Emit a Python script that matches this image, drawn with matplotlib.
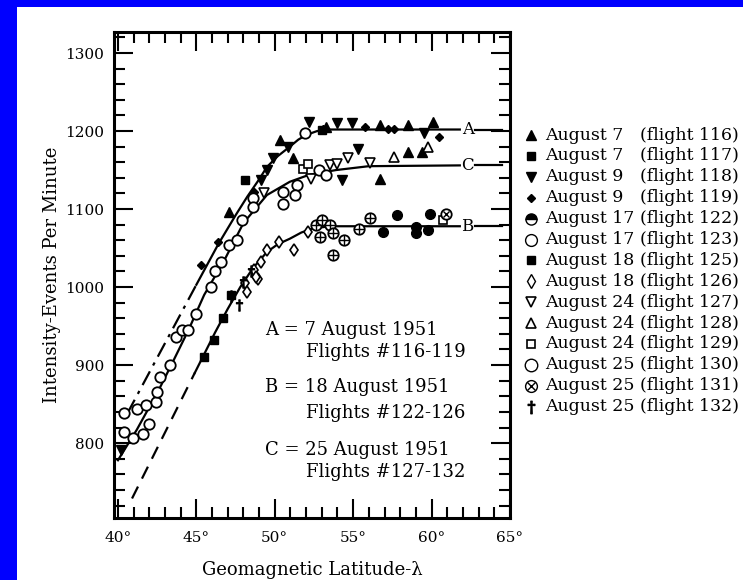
import matplotlib
matplotlib.use("Agg")
import matplotlib.pyplot as plt
from matplotlib.patches import Rectangle
from matplotlib.ticker import MultipleLocator

plt.rcParams['font.family'] = ['DejaVu Serif']
plt.rcParams['mathtext.fontset'] = 'dejavuserif'

# Fitted intensity curves (geomagnetic latitude in degrees, events per minute)
curve_a_lat = [45.0, 46.4, 47.5, 48.25, 49.0, 49.5, 50.2, 50.96, 51.5, 52.0, 52.7, 53.5, 56.0, 61.8]
curve_a_rate = [1003, 1055, 1092, 1116, 1138, 1154, 1168, 1180, 1189, 1195, 1200, 1202, 1202, 1202]
curve_a_ext_lat = [40.6, 45.0]
curve_a_ext_rate = [838, 1003]

curve_b_lat = [44.9, 45.5, 46.2, 47.0, 47.8, 48.6, 49.5, 50.2, 50.96, 51.7, 52.4, 53.5, 61.8]
curve_b_rate = [890, 914, 942, 972, 1000, 1024, 1045, 1055, 1062, 1070, 1075, 1078, 1078]
curve_b_ext_lat = [40.9, 44.9]
curve_b_ext_rate = [729, 890]

curve_c_lat = [40.0, 41.2, 42.6, 43.4, 44.5, 45.5, 46.8, 48.0, 49.5, 50.96, 52.2, 53.9, 56.0, 61.8]
curve_c_rate = [778, 817, 868, 900, 945, 990, 1035, 1082, 1118, 1135, 1144, 1150, 1155, 1156]

curve_labels = ["A", "B", "C"]
curve_label_rate = [1202, 1078, 1156]

# Individual flight measurements
f116_lat = [47.1, 50.33, 51.17, 53.25, 56.7, 58.5, 60.1, 56.7, 58.5, 59.4]
f116_rate = [1096, 1188, 1165, 1205, 1208, 1208, 1212, 1139, 1173, 1173]
f117_lat = [48.1, 53.0]
f117_rate = [1137, 1201]
f118_lat = [49.1, 49.5, 49.9, 50.86, 52.2, 54.0, 54.9, 59.5, 55.3, 54.3, 40.2]
f118_rate = [1137, 1150, 1165, 1180, 1212, 1210, 1210, 1197, 1177, 1137, 791]
f119_lat = [45.3, 46.4, 48.7, 53.1, 55.75, 57.2, 57.6, 60.5]
f119_rate = [1028, 1058, 1122, 1203, 1205, 1203, 1203, 1193]
f122_lat = [56.9, 57.8, 59.0, 59.0, 59.8, 59.9]
f122_rate = [1071, 1092, 1077, 1069, 1073, 1094]
f123_lat = [52.6, 53.0, 53.5, 52.9, 53.7, 54.4, 53.7, 55.4, 56.1]
f123_rate = [1079, 1086, 1079, 1064, 1069, 1060, 1041, 1075, 1088]
f125_lat = [45.5, 46.1, 46.7, 47.2]
f125_rate = [911, 932, 960, 990]
f126_lat = [51.2, 50.3, 49.5, 49.1, 48.7, 48.9, 48.1, 48.8, 52.1, 48.25]
f126_rate = [1047, 1058, 1047, 1032, 1022, 1011, 1005, 1013, 1071, 994]
f127_lat = [53.5, 54.0, 54.7, 56.1, 49.3, 52.3]
f127_rate = [1156, 1158, 1165, 1158.6, 1120, 1139]
f128_lat = [57.6, 59.8]
f128_rate = [1167, 1180]
f129_lat = [51.8, 52.1, 60.7]
f129_rate = [1152, 1158, 1086]
f130_lat = [40.4, 40.96, 41.6, 42.0, 40.4, 41.2, 41.8, 42.4, 42.5, 42.7, 43.35, 43.7,
            44.1, 44.5, 45.0, 45.96, 46.2, 46.6, 47.1, 47.6, 47.9, 48.6, 48.6, 50.5,
            50.5, 51.4, 51.3, 52.8, 53.25, 51.9]
f130_rate = [814, 806, 812, 825, 838, 844, 849, 853, 866, 885, 900, 936,
             945, 945, 966, 1000, 1020, 1032, 1054, 1060, 1086, 1114, 1103, 1122,
             1107, 1131, 1118, 1150, 1144, 1197]
f131_lat = [60.9]
f131_rate = [1094]
f132_lat = [47.2, 47.7, 48.0, 48.5]
f132_rate = [988, 977, 1007, 1020]

x_ticks = [40, 45, 50, 55, 60, 65]
x_ticklabels = ["40°", "45°", "50°", "55°", "60°", "65°"]
y_ticks = [800, 900, 1000, 1100, 1200, 1300]

legend_dates = ["August 7", "August 7", "August 9", "August 9", "August 17", "August 17",
                "August 18", "August 18", "August 24", "August 24", "August 24",
                "August 25", "August 25", "August 25"]
legend_flights = ["(flight 116)", "(flight 117)", "(flight 118)", "(flight 119)",
                  "(flight 122)", "(flight 123)", "(flight 125)", "(flight 126)",
                  "(flight 127)", "(flight 128)", "(flight 129)", "(flight 130)",
                  "(flight 131)", "(flight 132)"]

notes = ["A = 7 August 1951", "Flights #116-119",
         "B = 18 August 1951", "Flights #122-126",
         "C = 25 August 1951", "Flights #127-132"]

K = 'black'
W = 'white'
# marker style for each flight
styles = {
    '116': dict(marker='^', ms=6.5, mfc=K, mec=K),
    '117': dict(marker='s', ms=6, mfc=K, mec=K),
    '118': dict(marker='v', ms=6.5, mfc=K, mec=K),
    '119': dict(marker='D', ms=4, mfc=K, mec=K),
    '122': dict(marker='o', ms=7, mfc=K, mec=K),
    '123': dict(marker='o', ms=7.5, mfc=W, mec=K, mew=1.3),
    '125': dict(marker='s', ms=5.5, mfc=K, mec=K),
    '126': dict(marker='d', ms=6.5, mfc=W, mec=K, mew=1.2),
    '127': dict(marker='v', ms=6.5, mfc=W, mec=K, mew=1.2),
    '128': dict(marker='^', ms=6.5, mfc=W, mec=K, mew=1.2),
    '129': dict(marker='s', ms=6, mfc=W, mec=K, mew=1.2),
    '130': dict(marker='o', ms=7.5, mfc=W, mec=K, mew=1.3),
    '131': dict(marker='o', ms=7.5, mfc=W, mec=K, mew=1.3),
    '132': dict(marker=r'$\dagger$', ms=8, mfc=K, mec=K),
}
legend_styles = dict(styles)
legend_styles['122'] = dict(marker='o', ms=8, mfc=K, mec=K, fillstyle='top', mfcalt=W)
legend_styles['119'] = dict(marker='D', ms=4.5, mfc=K, mec=K)
legend_styles['126'] = dict(marker='d', ms=7, mfc=W, mec=K, mew=1.0)
legend_styles['130'] = dict(marker='o', ms=9, mfc=W, mec=K, mew=1.0)
legend_styles['123'] = dict(marker='o', ms=8.5, mfc=W, mec=K, mew=1.0)
legend_styles['131'] = dict(marker='o', ms=8.5, mfc=W, mec=K, mew=1.0)
legend_styles['132'] = dict(marker=r'$\dagger$', ms=9, mfc=K, mec=K)

series = [
    ('116', f116_lat, f116_rate), ('117', f117_lat, f117_rate),
    ('118', f118_lat, f118_rate), ('119', f119_lat, f119_rate),
    ('122', f122_lat, f122_rate), ('123', f123_lat, f123_rate),
    ('125', f125_lat, f125_rate), ('126', f126_lat, f126_rate),
    ('127', f127_lat, f127_rate), ('128', f128_lat, f128_rate),
    ('129', f129_lat, f129_rate), ('130', f130_lat, f130_rate),
    ('131', f131_lat, f131_rate), ('132', f132_lat, f132_rate),
]

fig = plt.figure(figsize=(7.43, 5.80), dpi=100)
fig.patch.set_facecolor('white')
# blue frame strips along the left and top edges
fig.patches.append(Rectangle((0, 0), 17 / 743, 1, transform=fig.transFigure,
                             facecolor='#0000ff', edgecolor='none', zorder=-5))
fig.patches.append(Rectangle((0, 1 - 7 / 580), 1, 7 / 580, transform=fig.transFigure,
                             facecolor='#0000ff', edgecolor='none', zorder=-5))

ax = fig.add_axes([114 / 743, 62 / 580, 396 / 743, 486 / 580])
ax.set_facecolor('white')
ax.set_xlim(39.75, 64.5)
ax.set_ylim(704, 1327)

lw = 1.6
ax.plot(curve_a_lat, curve_a_rate, color=K, lw=lw, zorder=2)
ax.plot(curve_b_lat, curve_b_rate, color=K, lw=lw, zorder=2)
ax.plot(curve_c_lat, curve_c_rate, color=K, lw=lw, zorder=2)
ax.plot(curve_a_ext_lat, curve_a_ext_rate, color=K, lw=lw, ls=(0, (7, 3, 1.5, 3)), zorder=2)
ax.plot(curve_b_ext_lat, curve_b_ext_rate, color=K, lw=lw, ls=(0, (6, 4)), zorder=2)

# short line stubs after the curve letters, out to the frame
for lab, r in zip(curve_labels, curve_label_rate):
    ax.plot([62.75, 64.5], [r, r], color=K, lw=lw, zorder=2)
    ax.text(62.3, r, lab, fontsize=12, ha='center', va='center', zorder=3)

for key, xs, ys in series:
    st = styles[key]
    ax.plot(xs, ys, ls='none', zorder=4, **st)
    if key == '123':
        ax.plot(xs, ys, ls='none', marker='+', ms=7, mec=K, mew=1.0, zorder=5)
    if key == '131':
        ax.plot(xs, ys, ls='none', marker='x', ms=5, mec=K, mew=1.0, zorder=5)

note_pos = [(49.4, 945, 'left'), (52.0, 917, 'left'),
            (49.4, 872, 'left'), (52.0, 838, 'left'),
            (49.4, 791, 'left'), (52.0, 763, 'left')]
for txt, (x, y, ha) in zip(notes, note_pos):
    ax.text(x, y, txt, fontsize=13, ha=ha, va='center', zorder=3)

ax.set_xticks(x_ticks)
ax.set_xticklabels(x_ticklabels)
ax.set_yticks(y_ticks)
ax.xaxis.set_minor_locator(MultipleLocator(1))
ax.yaxis.set_minor_locator(MultipleLocator(20))
ax.tick_params(which='both', direction='in', top=True, right=True, width=1.5, color=K)
ax.tick_params(which='major', length=14)
ax.tick_params(which='minor', length=8)
ax.tick_params(axis='x', which='major', labelsize=11, pad=9)
ax.tick_params(axis='y', which='major', labelsize=11, pad=7)
for s in ax.spines.values():
    s.set_linewidth(2.2)

ax.set_xlabel("Geomagnetic Latitude-λ", fontsize=13, labelpad=12)
ax.set_ylabel("Intensity-Events Per Minute", fontsize=13, labelpad=3)

# legend panel
lax = fig.add_axes([520 / 743, 0, 223 / 743, 1])
lax.set_xlim(520, 743)
lax.set_ylim(580, 0)
lax.axis('off')
row0, step = 135, 20.9
for i, (d, fl) in enumerate(zip(legend_dates, legend_flights)):
    y = row0 + i * step
    key = fl[-4:-1]
    lax.plot([531], [y], ls='none', **legend_styles[key])
    if key == '131':
        lax.plot([531], [y], ls='none', marker='x', ms=5.5, mec=K, mew=1.0)
    lax.text(545, y, d, fontsize=12.5, va='center', ha='left')
    lax.text(640, y, fl, fontsize=12.5, va='center', ha='left')

fig.savefig("out.png", dpi=100)
